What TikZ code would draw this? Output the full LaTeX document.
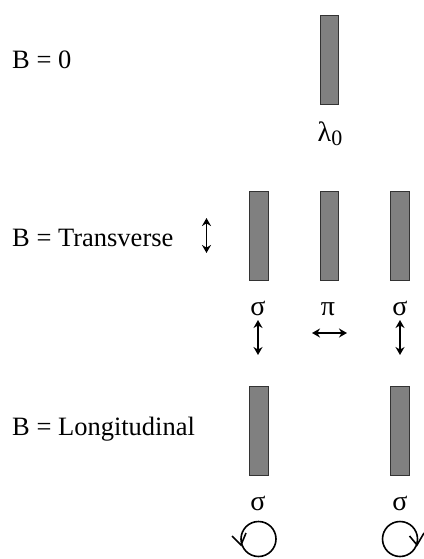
\documentclass[tikz,border=0pt]{standalone}
\usepackage{fontspec}
\setmainfont{Liberation Serif}
\usetikzlibrary{arrows.meta}
\begin{document}
\begin{tikzpicture}[x=1pt,y=-1pt,
  bar/.style={draw=black!80,line width=0.6pt,fill=black!50,minimum width=18.5pt,minimum height=89pt,inner sep=0pt},
  lab/.style={font=\fontsize{26.5}{30}\selectfont,anchor=base west,inner sep=0pt},
  glab/.style={font=\fontsize{28}{30}\selectfont,inner sep=0pt},
  dbl/.style={line width=1.6pt,{Stealth[length=8pt,width=9pt]}-{Stealth[length=8pt,width=9pt]}},
  circ/.style={line width=1.6pt}]
\useasboundingbox (0,0) rectangle (423,559);
% B = 0
\node[lab] (l0) at (12,69) {B = 0};
\node[bar] (b0) at (329.5,59.5) {};
\node[glab,anchor=base] (lam) at (330,141) {λ\raisebox{-0.35ex}{\fontsize{22}{24}\selectfont 0}};
% Transverse
\node[lab] (lt) at (12,246) {B = Transverse};
\coordinate (ta) at (206.5,218);
\coordinate (tb) at (206.5,253);
\draw[dbl] (ta) -- (tb);
\node[bar] (t1) at (259,236) {};
\node[bar] (t2) at (329.5,236) {};
\node[bar] (t3) at (400,236) {};
\node[glab,anchor=base] (s1) at (258,315) {σ};
\node[glab,anchor=base] (p2) at (328,315) {π};
\node[glab,anchor=base] (s3) at (400,315) {σ};
\coordinate (s1a) at (258,320);
\coordinate (s1b) at (258,355);
\draw[dbl] (s1a) -- (s1b);
\coordinate (p2a) at (312,333);
\coordinate (p2b) at (347,333);
\draw[dbl] (p2a) -- (p2b);
\coordinate (s3a) at (400,320);
\coordinate (s3b) at (400,355);
\draw[dbl] (s3a) -- (s3b);
% Longitudinal
\node[lab] (ll) at (12,435) {B = Longitudinal};
\node[bar] (g1) at (259,430.5) {};
\node[bar] (g3) at (400,430.5) {};
\node[glab,anchor=base] (q1) at (258,510) {σ};
\node[glab,anchor=base] (q3) at (400,510) {σ};
\coordinate (c1) at (258.5,539);
\coordinate (c3) at (400,539);
\draw[circ] (c1) circle[radius=17.5pt];
\draw[circ] (c3) circle[radius=17.5pt];
\coordinate (h1) at (241,545);
\draw[circ] (232,536) -- (h1) -- (246,533);
\coordinate (h3) at (417,545);
\draw[circ] (409.5,536) -- (h3) -- (424,533);
\end{tikzpicture}
\end{document}
